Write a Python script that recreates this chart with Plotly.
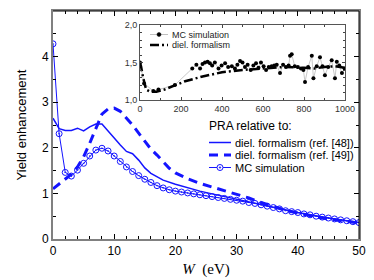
import plotly.graph_objects as go

# ---------------- main panel data ----------------
w_ref48 = [0, 1, 2, 3, 4, 5, 6, 7, 8, 9, 10, 11, 12, 13, 14, 15, 16, 17, 18, 20,
           22, 24, 26, 28, 30, 32, 34, 36, 38, 40, 42, 44, 46, 48, 50]
y_ref48 = [2.65, 2.42, 2.38, 2.38, 2.43, 2.37, 2.46, 2.52, 2.52, 2.36, 2.21, 2.06,
           1.92, 1.87, 1.73, 1.56, 1.44, 1.36, 1.29, 1.20, 1.12, 1.05, 0.99, 0.93,
           0.88, 0.82, 0.76, 0.69, 0.63, 0.58, 0.53, 0.48, 0.44, 0.40, 0.36]

w_ref49 = [0, 1, 2, 3, 4, 5, 6, 7, 8, 9, 10, 11, 12, 13, 14, 15, 16, 17, 18, 19,
           20, 22, 24, 26, 28, 30, 32, 34, 36, 38, 40, 42, 44, 46, 48, 50]
y_ref49 = [1.10, 1.20, 1.30, 1.42, 1.58, 1.80, 2.10, 2.44, 2.74, 2.85, 2.87, 2.80,
           2.66, 2.50, 2.32, 2.15, 1.97, 1.84, 1.70, 1.55, 1.45, 1.32, 1.22, 1.14,
           1.06, 0.99, 0.90, 0.80, 0.71, 0.63, 0.57, 0.51, 0.46, 0.42, 0.38, 0.35]

w_mc = list(range(0, 51))
y_mc = [4.28, 2.31, 1.46, 1.38, 1.51, 1.66, 1.82, 1.95, 1.99, 1.93, 1.82, 1.70,
        1.58, 1.48, 1.39, 1.31, 1.24, 1.17, 1.12, 1.08, 1.05, 1.03, 1.01, 0.99,
        0.97, 0.95, 0.93, 0.91, 0.89, 0.87, 0.85, 0.83, 0.80, 0.78, 0.75, 0.72,
        0.69, 0.66, 0.62, 0.60, 0.58, 0.55, 0.53, 0.50, 0.48, 0.46, 0.44, 0.42,
        0.40, 0.38, 0.36]

main_names = ["diel. formalism (ref. [48])", "diel. formalism (ref. [49])", "MC simulation"]
main_legend_title = "PRA relative to:"

# ---------------- inset data ----------------
ins_diel_x = [0, 5, 15, 30, 50, 80, 120, 170, 220, 300, 400, 500, 600, 700, 800,
              850, 900, 950, 1000]
ins_diel_y = [1.50, 1.45, 1.30, 1.14, 1.11, 1.11, 1.14, 1.20, 1.25, 1.31, 1.37,
              1.40, 1.42, 1.44, 1.43, 1.42, 1.44, 1.45, 1.43]

ins_mc_x = [0, 20, 65, 90, 170, 255, 275, 293, 305, 317, 330, 341, 352, 365, 383,
            398, 415, 430, 448, 463, 475, 488, 500, 512, 525, 540, 553, 566, 578,
            590, 603, 615, 628, 642, 655, 667, 683, 698, 712, 725, 732, 740, 755,
            770, 785, 797, 805, 820, 838, 846, 862, 878, 890, 902, 918, 935, 951,
            960, 972, 985, 998]
ins_mc_y = [1.50, 1.22, 1.12, 1.14, 1.20, 1.42, 1.47, 1.42, 1.48, 1.50, 1.51, 1.49,
            1.46, 1.50, 1.42, 1.46, 1.49, 1.44, 1.45, 1.42, 1.47, 1.52, 1.50, 1.44,
            1.47, 1.40, 1.46, 1.49, 1.43, 1.50, 1.45, 1.40, 1.44, 1.45, 1.46, 1.47,
            1.36, 1.47, 1.44, 1.46, 1.59, 1.61, 1.45, 1.44, 1.42, 1.40, 1.24, 1.44,
            1.59, 1.29, 1.45, 1.57, 1.45, 1.33, 1.44, 1.53, 1.29, 1.51, 1.46, 1.36,
            1.42]

inset_names = ["MC simulation", "diel. formalism"]
ins_yticks = [1.0, 1.5, 2.0]
ins_yticktext = ["1,0", "1,5", "2,0"]

BLUE = "#1414ff"
FONT = "Liberation Sans, Arial, sans-serif"
SERIF = "Liberation Serif, DejaVu Serif, serif"

# The page body adds an 8 px margin, so the figure is made 8 px smaller and all
# reference pixel positions below are shifted by that amount.
OFF = 8
W, H = 374 - OFF, 280 - OFF
ML, MR, MT, MB = 53 - OFF, 15, 11 - OFF, 41
PW, PH = W - ML - MR, H - MT - MB


def px(x):
    return (x - OFF - ML) / PW


def py(y):
    return (H - MB - (y - OFF)) / PH


DASH_MAIN = "9px,6px"
DASH_INSET = "9px,3px,2px,3px"

fig = go.Figure()

fig.add_trace(go.Scatter(x=w_ref48, y=y_ref48, mode="lines",
                         line=dict(color=BLUE, width=1.5), name=main_names[0],
                         showlegend=False))
fig.add_trace(go.Scatter(x=w_ref49, y=y_ref49, mode="lines",
                         line=dict(color=BLUE, width=3, dash=DASH_MAIN),
                         name=main_names[1], showlegend=False))
fig.add_trace(go.Scatter(x=w_mc, y=y_mc, mode="lines+markers",
                         line=dict(color=BLUE, width=1),
                         marker=dict(symbol="circle-open-dot", size=6, color=BLUE,
                                     line=dict(width=1, color=BLUE)),
                         name=main_names[2], showlegend=False))

# inset
fig.add_trace(go.Scatter(x=ins_mc_x, y=ins_mc_y, mode="lines+markers",
                         xaxis="x2", yaxis="y2",
                         line=dict(color="#b0b0b0", width=0.7),
                         marker=dict(symbol="circle", size=4, color="black"),
                         name=inset_names[0], showlegend=False))
fig.add_trace(go.Scatter(x=ins_diel_x, y=ins_diel_y, mode="lines",
                         xaxis="x2", yaxis="y2",
                         line=dict(color="black", width=2.5, dash=DASH_INSET),
                         name=inset_names[1], showlegend=False))

axis_common = dict(showline=True, linecolor="#808080", linewidth=2, mirror="allticks",
                   ticks="inside", tickcolor="black", ticklen=5, tickwidth=1,
                   showgrid=False, zeroline=False, automargin=False,
                   tickfont=dict(family=FONT, size=12, color="black"))
inset_axis = dict(showline=True, linecolor="#555", linewidth=1, mirror="allticks",
                  ticks="inside", ticklen=3, tickcolor="#444", showgrid=False,
                  zeroline=False, automargin=False,
                  tickfont=dict(family=FONT, size=9, color="#333"))

fig.update_layout(
    width=W, height=H,
    margin=dict(l=ML, r=MR, t=MT, b=MB),
    paper_bgcolor="white", plot_bgcolor="white",
    font=dict(family=FONT, color="black"),
    showlegend=False,
    xaxis=dict(range=[0, 50], tickvals=[0, 10, 20, 30, 40, 50],
               minor=dict(dtick=2, ticks="inside", ticklen=3, tickcolor="black"),
               title=dict(text="<i>W</i>  (eV)", font=dict(family=SERIF, size=15),
                          standoff=6),
               **axis_common),
    yaxis=dict(range=[0, 5], tickvals=[0, 1, 2, 3, 4, 5],
               minor=dict(dtick=0.5, ticks="inside", ticklen=3, tickcolor="black"),
               title=dict(text="Yield enhancement", font=dict(family=FONT, size=13),
                          standoff=12),
               **axis_common),
    xaxis2=dict(domain=[px(140), px(345)], anchor="y2", range=[0, 1000],
                tickvals=[0, 200, 400, 600, 800, 1000],
                minor=dict(dtick=100, ticks="inside", ticklen=2, tickcolor="#444"),
                **inset_axis),
    yaxis2=dict(domain=[py(100), py(25)], anchor="x2", range=[1, 2],
                tickvals=ins_yticks, ticktext=ins_yticktext,
                minor=dict(dtick=0.1, ticks="inside", ticklen=2, tickcolor="#444"),
                **inset_axis),
)

shapes = []
annots = []
# black thin top/right frame of the main panel
shapes.append(dict(type="line", xref="paper", yref="paper", x0=0, x1=1, y0=1, y1=1,
                   line=dict(color="black", width=1)))
shapes.append(dict(type="line", xref="paper", yref="paper", x0=1, x1=1, y0=0, y1=1,
                   line=dict(color="black", width=1)))

# ---- main legend (hand-made, tight spacing like the original) ----
annots.append(dict(xref="paper", yref="paper", x=px(207), y=py(126), xanchor="left",
                   yanchor="middle", text=main_legend_title, showarrow=False,
                   font=dict(family=FONT, size=12, color="black")))
rows = [142.5, 155, 167.5]
styles = [dict(color=BLUE, width=1.5), dict(color=BLUE, width=3, dash=DASH_MAIN),
          dict(color=BLUE, width=1)]
for ry, st, nm in zip(rows, styles, main_names):
    shapes.append(dict(type="line", xref="paper", yref="paper", x0=px(209), x1=px(231),
                       y0=py(ry), y1=py(ry), line=st))
    annots.append(dict(xref="paper", yref="paper", x=px(233), y=py(ry), xanchor="left",
                       yanchor="middle", text=nm, showarrow=False,
                       font=dict(family=FONT, size=11, color="black")))
shapes.append(dict(type="circle", xref="paper", yref="paper", xsizemode="pixel",
                   ysizemode="pixel", xanchor=px(220), yanchor=py(rows[2]),
                   x0=-3, x1=3, y0=-3, y1=3, fillcolor="white",
                   line=dict(color=BLUE, width=1)))
shapes.append(dict(type="circle", xref="paper", yref="paper", xsizemode="pixel",
                   ysizemode="pixel", xanchor=px(220), yanchor=py(rows[2]),
                   x0=-0.8, x1=0.8, y0=-0.8, y1=0.8, fillcolor=BLUE,
                   line=dict(color=BLUE, width=0.5)))

# ---- inset legend ----
irows = [34.5, 45]
shapes.append(dict(type="line", xref="paper", yref="paper", x0=px(150), x1=px(168),
                   y0=py(irows[0]), y1=py(irows[0]), line=dict(color="#b0b0b0", width=0.8)))
shapes.append(dict(type="circle", xref="paper", yref="paper", xsizemode="pixel",
                   ysizemode="pixel", xanchor=px(159), yanchor=py(irows[0]),
                   x0=-2, x1=2, y0=-2, y1=2, fillcolor="black",
                   line=dict(color="black", width=0.5)))
shapes.append(dict(type="line", xref="paper", yref="paper", x0=px(150), x1=px(168),
                   y0=py(irows[1]), y1=py(irows[1]),
                   line=dict(color="black", width=2.5, dash=DASH_INSET)))
for ry, nm in zip(irows, inset_names):
    annots.append(dict(xref="paper", yref="paper", x=px(170), y=py(ry), xanchor="left",
                       yanchor="middle", text=nm, showarrow=False,
                       font=dict(family=FONT, size=9, color="#222")))

fig.update_layout(shapes=shapes, annotations=annots)

fig.write_html("out.html")
